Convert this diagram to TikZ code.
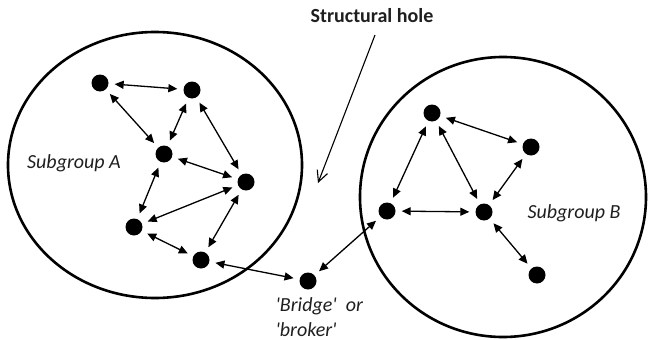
\documentclass[tikz,border=0pt]{standalone}
\usepackage{fontspec}
\setmainfont{Carlito}
\usetikzlibrary{arrows.meta}
\begin{document}
\begin{tikzpicture}[x=1pt,y=-1pt,
  dot/.style={circle,fill=black,minimum size=17pt,inner sep=0pt},
  link/.style={line width=1.3pt,{Triangle[length=9pt,width=8pt]}-{Triangle[length=9pt,width=8pt]},shorten <=6pt,shorten >=6pt},
  group/.style={line width=2.6pt},
  lab/.style={font=\fontsize{20}{25}\selectfont\itshape,text=black!88}]
\useasboundingbox (0,0) rectangle (648,340);
\fill[white] (0,0) rectangle (648,340);
% subgroups
\draw[group] (155,165) ellipse [x radius=147pt, y radius=133pt];
\draw[group] (503,197) ellipse [x radius=143pt, y radius=140pt];
% nodes A
\node[dot] (a1) at (100,83) {};
\node[dot] (a2) at (192,90) {};
\node[dot] (a3) at (164,154) {};
\node[dot] (a4) at (246,182) {};
\node[dot] (a5) at (134,227) {};
\node[dot] (a6) at (201,260) {};
\node[dot] (br) at (308,281) {};
% nodes B
\node[dot] (b1) at (432,113) {};
\node[dot] (b2) at (531,147) {};
\node[dot] (b3) at (387,211) {};
\node[dot] (b4) at (484,212) {};
\node[dot] (b5) at (537,275) {};
% links
\draw[link] (a1) -- (a2);
\draw[link] (a1) -- (a3);
\draw[link] (a2) -- (a3);
\draw[link] (a2) -- (a4);
\draw[link] (a3) -- (a4);
\draw[link] (a3) -- (a5);
\draw[link] (a4) -- (a5);
\draw[link] (a4) -- (a6);
\draw[link] (a5) -- (a6);
\draw[link] (a6) -- (br);
\draw[link] (br) -- (b3);
\draw[link] (b1) -- (b3);
\draw[link] (b1) -- (b2);
\draw[link] (b1) -- (b4);
\draw[link] (b2) -- (b4);
\draw[link] (b3) -- (b4);
\draw[link] (b4) -- (b5);
% labels
\node[lab] (la) at (74,163) {Subgroup A};
\node[lab] (lb) at (574,213) {Subgroup B};
\node[lab,anchor=west,align=left] (lbr) at (272,317) {\textquotesingle Bridge\textquotesingle\ \ or\\\textquotesingle broker\textquotesingle};
\node[font=\fontsize{20}{24}\selectfont\bfseries,text=black!88] (sh) at (372,16) {Structural hole};
\coordinate (shs) at (375,35);
\coordinate (she) at (318,183);
\draw[line width=1.1pt,-{Straight Barb[length=11pt,width=11pt]}] (shs) -- (she);
\end{tikzpicture}
\end{document}
